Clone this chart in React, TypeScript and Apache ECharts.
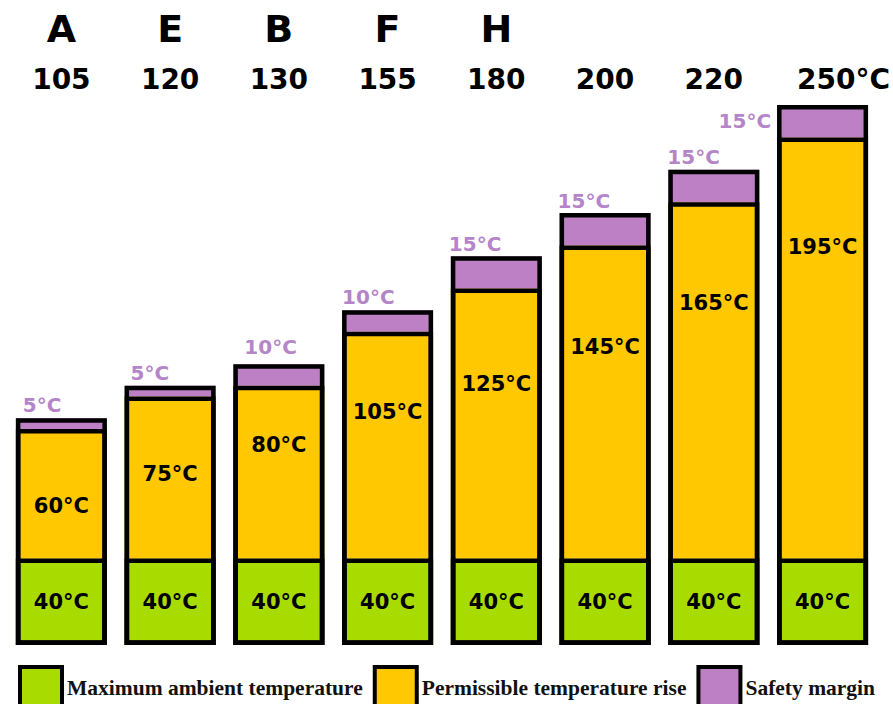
import React, { useEffect, useRef } from "react";
import * as echarts from "echarts";

// Insulation classes and their rated temperatures
const classLetters = ["A", "E", "B", "F", "H", "", "", ""];
const classTemps = ["105", "120", "130", "155", "180", "200", "220", "250°C"];

// Temperature budget per class (°C)
const ambient = [40, 40, 40, 40, 40, 40, 40, 40];
const rise = [60, 75, 80, 105, 125, 145, 165, 195];
const safety = [5, 5, 10, 10, 15, 15, 15, 15];

// Label placement tweaks
const riseLabelDy = [12, -4, -27, -33, -40, -55, -77, -101];
const safetyLabelAt: (number[] | null)[] = [
  [7, -3], [6, -3], [11, -7], [0, -3], [-2, -2], [-2, -2], [-1, -3], null,
];

const GREEN = "#A8DC00";
const YELLOW = "#FFC800";
const PURPLE = "#BE80C4";
const PURPLE_TEXT = "#B585C9";
const SANS = "DejaVu Sans";
const BAR_W = 91;
const LINE_W = 4.5;

export default function App() {
  const ref = useRef<HTMLDivElement>(null);

  useEffect(() => {
    if (!ref.current) return;
    const chart = echarts.init(ref.current, null, { renderer: "svg" });

    // running levels of the stack: ambient, ambient + rise, full rating
    const levelAmbient = ambient.slice();
    const levelRise = ambient.map((a, i) => a + rise[i]);
    const levelTotal = levelRise.map((r, i) => r + safety[i]);

    const insideLabel = {
      show: true,
      formatter: "{c}°C",
      color: "#000",
      fontFamily: SANS,
      fontWeight: "bold" as const,
      fontSize: 21,
    };

    const segment = {
      type: "bar" as const,
      stack: "budget",
      barWidth: BAR_W,
      barGap: "-100%",
    };

    // transparent boxes whose strokes draw the black frame and dividers
    const outline = (name: string, data: number[]) => ({
      name,
      type: "bar" as const,
      barWidth: BAR_W,
      barGap: "-100%",
      silent: true,
      z: 3,
      itemStyle: { color: "rgba(0,0,0,0)", borderColor: "#000", borderWidth: LINE_W },
      data,
    });

    chart.setOption({
      animation: false,
      backgroundColor: "#fff",
      grid: { left: 7, right: 15, top: 105, bottom: 59, containLabel: false },
      xAxis: [
        {
          type: "category",
          position: "top",
          data: classTemps.map((t, i) =>
            i === classTemps.length - 1
              ? { value: t, textStyle: { padding: [0, 0, 0, 42] } }
              : t
          ),
          axisLine: { show: false },
          axisTick: { show: false },
          axisLabel: {
            margin: 12,
            fontFamily: SANS,
            fontWeight: "bold",
            fontSize: 28,
            color: "#000",
            interval: 0,
          },
        },
        {
          type: "category",
          position: "top",
          data: classLetters,
          axisLine: { show: false },
          axisTick: { show: false },
          axisLabel: {
            margin: 57,
            fontFamily: SANS,
            fontWeight: "bold",
            fontSize: 38,
            color: "#000",
            interval: 0,
          },
        },
      ],
      yAxis: { type: "value", min: 0, max: 250, show: false },
      legend: {
        left: 18,
        top: 665,
        padding: 0,
        icon: "rect",
        itemWidth: 42,
        itemHeight: 42,
        itemGap: 10,
        itemStyle: { borderColor: "#000", borderWidth: 4 },
        textStyle: {
          fontFamily: "Liberation Serif",
          fontWeight: "bold",
          fontSize: 21.5,
          color: "#111",
        },
        data: [
          "Maximum ambient temperature",
          "Permissible temperature rise",
          "Safety margin",
        ],
      },
      series: [
        {
          ...segment,
          name: "Maximum ambient temperature",
          itemStyle: { color: GREEN, borderColor: "#000", borderWidth: 0 },
          label: { ...insideLabel, position: "inside" },
          data: ambient,
        },
        {
          ...segment,
          name: "Permissible temperature rise",
          itemStyle: { color: YELLOW, borderColor: "#000", borderWidth: 0 },
          label: { ...insideLabel, position: "inside" },
          data: rise.map((v, i) => ({
            value: v,
            label: { offset: [0, riseLabelDy[i]] },
          })),
        },
        {
          ...segment,
          name: "Safety margin",
          itemStyle: { color: PURPLE, borderColor: "#000", borderWidth: 0 },
          label: {
            show: true,
            formatter: "{c}°C",
            color: PURPLE_TEXT,
            fontFamily: SANS,
            fontWeight: "bold",
            fontSize: 20,
          },
          data: safety.map((v, i) => {
            const at = safetyLabelAt[i];
            return {
              value: v,
              label: at
                ? { position: at, align: "left", verticalAlign: "bottom" }
                : { position: "left", distance: 6 },
            };
          }),
        },
        outline("frame-ambient", levelAmbient),
        outline("frame-rise", levelRise),
        outline("frame-total", levelTotal),
      ],
    });

    return () => chart.dispose();
  }, []);

  return (
    <div
      ref={ref}
      style={{ position: "absolute", left: 0, top: 0, width: 893, height: 704 }}
    />
  );
}
